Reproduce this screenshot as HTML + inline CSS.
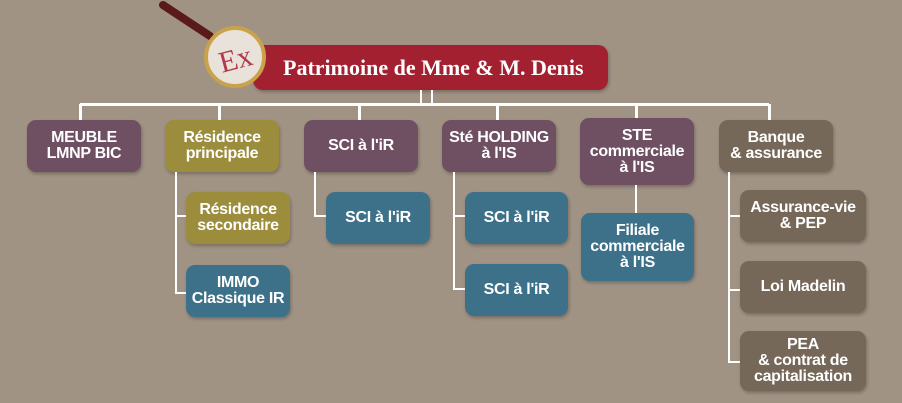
<!DOCTYPE html>
<html><head><meta charset="utf-8"><style>
body{margin:0;width:902px;height:403px;background:#a09384;position:relative;overflow:hidden;font-family:"Liberation Sans",sans-serif}
.b{position:absolute;border-radius:9px;color:#fff;font-weight:bold;font-size:16px;line-height:16px;display:flex;align-items:center;justify-content:center;text-align:center;box-shadow:1px 2px 3px rgba(0,0,0,.25);letter-spacing:-0.3px}
.p{background:#6f5063}.o{background:#9c8d3c}.t{background:#3d7189}.g{background:#756858}
.l{position:absolute;background:#fff}
</style></head><body>
<div class="b" style="left:253px;top:45px;width:355px;height:45px;background:#a2202f;border-radius:10px;font-family:'Liberation Serif',serif;font-size:22px;justify-content:flex-start;padding-left:30px;box-sizing:border-box;letter-spacing:0">Patrimoine de Mme &amp; M. Denis</div>
<svg style="position:absolute;left:0;top:0" width="300" height="100">
<line x1="163" y1="5" x2="210" y2="36" stroke="#5a1a1a" stroke-width="8" stroke-linecap="round"/>
<circle cx="235" cy="57" r="29" fill="#e8e2da" stroke="#c9a24a" stroke-width="4"/>
<text x="235" y="69" text-anchor="middle" font-family="Liberation Serif" font-size="30" fill="#b23a48" transform="rotate(-15 235 57)">Ex</text>
</svg>
<div class="l" style="left:80px;top:103px;width:689px;height:3px"></div>
<div class="l" style="left:420px;top:90px;width:2px;height:14px"></div>
<div class="l" style="left:431px;top:90px;width:2px;height:14px"></div>
<div class="l" style="left:79px;top:104px;width:3px;height:16px"></div>
<div class="l" style="left:218px;top:104px;width:3px;height:16px"></div>
<div class="l" style="left:358px;top:104px;width:3px;height:16px"></div>
<div class="l" style="left:496px;top:104px;width:3px;height:16px"></div>
<div class="l" style="left:635px;top:104px;width:3px;height:16px"></div>
<div class="l" style="left:768px;top:104px;width:3px;height:16px"></div>

<div class="b p" style="left:27px;top:120px;width:114px;height:52px">MEUBLE<br>LMNP BIC</div>
<div class="b o" style="left:165px;top:120px;width:114px;height:52px">Résidence<br>principale</div>
<div class="b p" style="left:304px;top:120px;width:114px;height:52px">SCI à l'iR</div>
<div class="b p" style="left:442px;top:120px;width:114px;height:52px">Sté HOLDING<br>à l'IS</div>
<div class="b p" style="left:580px;top:118px;width:114px;height:67px">STE<br>commerciale<br>à l'IS</div>
<div class="b g" style="left:719px;top:120px;width:114px;height:52px">Banque<br>&amp; assurance</div>

<div class="l" style="left:175px;top:172px;width:2px;height:122px"></div>
<div class="l" style="left:175px;top:215px;width:11px;height:2px"></div>
<div class="l" style="left:175px;top:292px;width:11px;height:2px"></div>
<div class="b o" style="left:186px;top:192px;width:104px;height:52px">Résidence<br>secondaire</div>
<div class="b t" style="left:186px;top:265px;width:104px;height:52px">IMMO<br>Classique IR</div>

<div class="l" style="left:314px;top:172px;width:2px;height:45px"></div>
<div class="l" style="left:314px;top:215px;width:12px;height:2px"></div>
<div class="b t" style="left:326px;top:192px;width:104px;height:52px">SCI à l'iR</div>

<div class="l" style="left:453px;top:172px;width:2px;height:118px"></div>
<div class="l" style="left:453px;top:215px;width:12px;height:2px"></div>
<div class="l" style="left:453px;top:288px;width:12px;height:2px"></div>
<div class="b t" style="left:465px;top:192px;width:103px;height:52px">SCI à l'iR</div>
<div class="b t" style="left:465px;top:264px;width:103px;height:52px">SCI à l'iR</div>

<div class="l" style="left:635px;top:185px;width:2px;height:28px"></div>
<div class="b t" style="left:581px;top:213px;width:113px;height:68px">Filiale<br>commerciale<br>à l'IS</div>

<div class="l" style="left:728px;top:172px;width:2px;height:191px"></div>
<div class="l" style="left:728px;top:215px;width:12px;height:2px"></div>
<div class="l" style="left:728px;top:289px;width:12px;height:2px"></div>
<div class="l" style="left:728px;top:361px;width:12px;height:2px"></div>
<div class="b g" style="left:740px;top:190px;width:126px;height:52px">Assurance-vie<br>&amp; PEP</div>
<div class="b g" style="left:740px;top:261px;width:126px;height:52px">Loi Madelin</div>
<div class="b g" style="left:740px;top:331px;width:126px;height:60px">PEA<br>&amp; contrat de<br>capitalisation</div>
</body></html>
